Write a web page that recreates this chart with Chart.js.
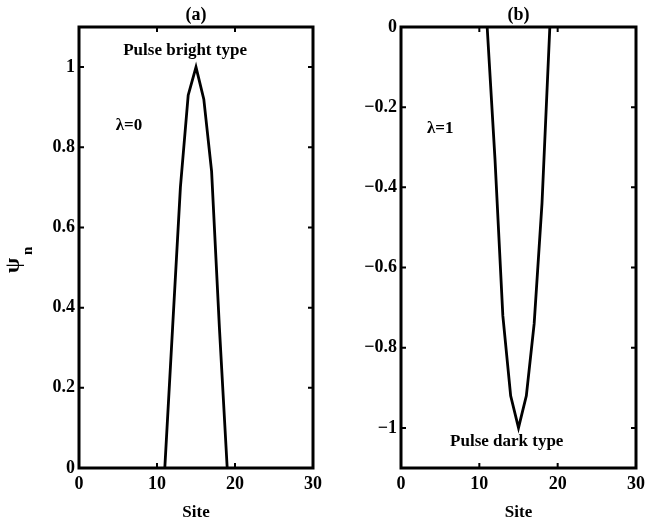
<!DOCTYPE html>
<html>
<head>
<meta charset="utf-8">
<script src="https://cdn.jsdelivr.net/npm/chart.js@4"></script>
<style>
  body { margin: 0; background: #fff; }
  #wrap { position: relative; width: 645px; height: 525px; }
  .panel { position: absolute; top: 0; height: 525px; }
</style>
</head>
<body>
<div id="wrap">
  <div class="panel" style="left:0;width:330px"><canvas id="bright"></canvas></div>
  <div class="panel" style="left:330px;width:315px"><canvas id="dark"></canvas></div>
</div>
<script>
// lattice sites and field amplitudes
const sites = [11, 12, 13, 14, 15, 16, 17, 18, 19];
const psiBright = [0, 0.35, 0.70, 0.93, 1.00, 0.92, 0.74, 0.35, 0];
const psiDark = [0, -0.33, -0.72, -0.92, -1.00, -0.92, -0.74, -0.44, 0];

const FONT = '"Liberation Serif", "Times New Roman", serif';

function fmt(v) {
  return String(Number(v.toFixed(2))).replace('-', '\u2212');
}

// box, inward tick marks, text notes
const frame = {
  id: 'frame',
  afterDatasetsDraw(chart, args, o) {
    const { ctx, chartArea: a } = chart;
    const x = chart.scales.x, y = chart.scales.y;
    ctx.save();
    ctx.strokeStyle = '#000';
    ctx.lineWidth = 3;
    ctx.strokeRect(a.left, a.top, a.width, a.height);
    ctx.lineWidth = 2;
    ctx.beginPath();
    for (const t of x.ticks) {
      const px = x.getPixelForValue(t.value);
      ctx.moveTo(px, a.bottom); ctx.lineTo(px, a.bottom - 5);
      ctx.moveTo(px, a.top); ctx.lineTo(px, a.top + 5);
    }
    for (const t of y.ticks) {
      const py = y.getPixelForValue(t.value);
      ctx.moveTo(a.left, py); ctx.lineTo(a.left + 5, py);
      ctx.moveTo(a.right, py); ctx.lineTo(a.right - 5, py);
    }
    ctx.stroke();
    ctx.fillStyle = '#000';
    ctx.textAlign = 'center';
    ctx.textBaseline = 'middle';
    ctx.font = 'bold 17px ' + FONT;
    for (const n of o.notes || []) {
      ctx.fillText(n.text, x.getPixelForValue(n.x), y.getPixelForValue(n.y));
    }
    if (o.ylabel) {
      ctx.translate(19, 273);
      ctx.rotate(-Math.PI / 2);
      ctx.textAlign = 'left';
      ctx.textBaseline = 'alphabetic';
      ctx.font = 'bold 22px ' + FONT;
      ctx.fillText('\u03c8', 0, 0);
      ctx.font = 'bold 15px ' + FONT;
      ctx.fillText('n', 18, 13);
    }
    ctx.restore();
  }
};

function panel(id, title, values, ymin, ymax, yWidth, padRight, notes, ylabel) {
  return new Chart(document.getElementById(id), {
    type: 'line',
    data: {
      datasets: [{
        data: sites.map((s, i) => ({ x: s, y: values[i] })),
        borderColor: '#000',
        borderWidth: 2.8,
        pointRadius: 0,
        tension: 0,
        fill: false
      }]
    },
    options: {
      responsive: true,
      maintainAspectRatio: false,
      animation: false,
      layout: { padding: { left: 0, right: padRight, top: 0, bottom: 0 } },
      plugins: {
        legend: { display: false },
        tooltip: { enabled: false },
        title: {
          display: true,
          fullSize: false,
          text: title,
          color: '#000',
          font: { family: FONT, size: 18, weight: 'bold' },
          padding: { top: 4.2, bottom: 1.2 }
        },
        frame: { notes, ylabel }
      },
      scales: {
        x: {
          type: 'linear',
          min: 0, max: 30,
          grid: { display: false, drawTicks: false },
          border: { display: false },
          ticks: {
            stepSize: 10,
            padding: 6,
            color: '#000',
            font: { family: FONT, size: 18, weight: 'bold' },
            maxRotation: 0
          },
          title: {
            display: true,
            text: 'Site',
            color: '#000',
            font: { family: FONT, size: 17, weight: 'bold' },
            padding: { top: 0, bottom: 2.5 }
          },
          afterFit(s) { s.height = 57; s.paddingLeft = 0; s.paddingRight = 0; }
        },
        y: {
          min: ymin, max: ymax,
          grid: { display: false, drawTicks: false },
          border: { display: false },
          ticks: {
            stepSize: 0.2,
            includeBounds: false,
            padding: 4,
            color: '#000',
            font: { family: FONT, size: 18, weight: 'bold' },
            callback: v => fmt(v)
          },
          afterFit(s) { s.width = yWidth; s.paddingTop = 0; s.paddingBottom = 0; }
        }
      }
    },
    plugins: [frame]
  });
}

panel('bright', '(a)', psiBright, 0, 1.1, 79, 17, [
  { text: 'Pulse bright type', x: 13.6, y: 1.04 },
  { text: '\u03bb=0', x: 6.4, y: 0.853 }
], true);

panel('dark', '(b)', psiDark, -1.1, 0, 71, 9, [
  { text: '\u03bb=1', x: 5.0, y: -0.254 },
  { text: 'Pulse dark type', x: 13.5, y: -1.035 }
], false);
</script>
</body>
</html>
